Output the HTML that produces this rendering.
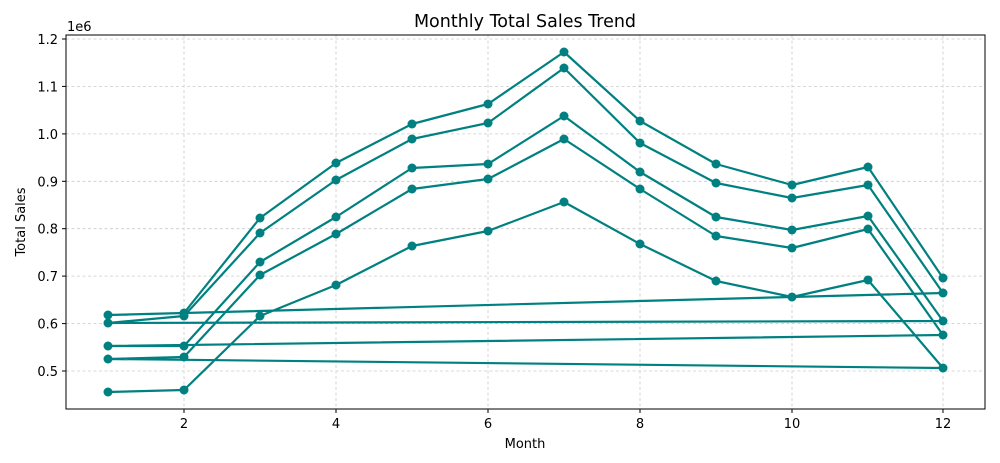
<!DOCTYPE html>
<html><head><style>body{margin:0;background:#fff}svg{display:block}</style></head><body>
<svg width="1000" height="463" xmlns="http://www.w3.org/2000/svg" font-family="DejaVu Sans, Liberation Sans, sans-serif">
<rect width="1000" height="463" fill="#fff"/>
<g stroke="#cccccc" stroke-width="0.8" stroke-dasharray="3,2.5">
<line x1="184" y1="35" x2="184" y2="409"/><line x1="336" y1="35" x2="336" y2="409"/><line x1="488" y1="35" x2="488" y2="409"/><line x1="640" y1="35" x2="640" y2="409"/><line x1="792" y1="35" x2="792" y2="409"/><line x1="943" y1="35" x2="943" y2="409"/>
<line x1="66" y1="371" x2="985" y2="371"/><line x1="66" y1="323.6" x2="985" y2="323.6"/><line x1="66" y1="276.1" x2="985" y2="276.1"/><line x1="66" y1="228.7" x2="985" y2="228.7"/><line x1="66" y1="181.3" x2="985" y2="181.3"/><line x1="66" y1="133.9" x2="985" y2="133.9"/><line x1="66" y1="86.4" x2="985" y2="86.4"/><line x1="66" y1="39" x2="985" y2="39"/>
</g>
<polyline fill="none" stroke="#008080" stroke-width="2.2" stroke-linejoin="round" points="108,392 184,390 260,316 336,285 412,246 488,231 564,202 640,244 716,281 792,297 868,280 943,368 108,359 184,357 260,275 336,234 412,189 488,179 564,139 640,189 716,236 792,248 868,229 943,335 108,346 184,346 260,262 336,217 412,168 488,164 564,116 640,172 716,217 792,230 868,216 943,321 108,323 184,316 260,233 336,180 412,139 488,123 564,68 640,143 716,183 792,198 868,185 943,293 108,315 184,313 260,218 336,163 412,124 488,104 564,52 640,121 716,164 792,185 868,167 943,278"/>
<g fill="#008080">
<circle cx="108" cy="392" r="4.5"/><circle cx="184" cy="390" r="4.5"/><circle cx="260" cy="316" r="4.5"/><circle cx="336" cy="285" r="4.5"/><circle cx="412" cy="246" r="4.5"/><circle cx="488" cy="231" r="4.5"/><circle cx="564" cy="202" r="4.5"/><circle cx="640" cy="244" r="4.5"/><circle cx="716" cy="281" r="4.5"/><circle cx="792" cy="297" r="4.5"/><circle cx="868" cy="280" r="4.5"/><circle cx="943" cy="368" r="4.5"/>
<circle cx="108" cy="359" r="4.5"/><circle cx="184" cy="357" r="4.5"/><circle cx="260" cy="275" r="4.5"/><circle cx="336" cy="234" r="4.5"/><circle cx="412" cy="189" r="4.5"/><circle cx="488" cy="179" r="4.5"/><circle cx="564" cy="139" r="4.5"/><circle cx="640" cy="189" r="4.5"/><circle cx="716" cy="236" r="4.5"/><circle cx="792" cy="248" r="4.5"/><circle cx="868" cy="229" r="4.5"/><circle cx="943" cy="335" r="4.5"/>
<circle cx="108" cy="346" r="4.5"/><circle cx="184" cy="346" r="4.5"/><circle cx="260" cy="262" r="4.5"/><circle cx="336" cy="217" r="4.5"/><circle cx="412" cy="168" r="4.5"/><circle cx="488" cy="164" r="4.5"/><circle cx="564" cy="116" r="4.5"/><circle cx="640" cy="172" r="4.5"/><circle cx="716" cy="217" r="4.5"/><circle cx="792" cy="230" r="4.5"/><circle cx="868" cy="216" r="4.5"/><circle cx="943" cy="321" r="4.5"/>
<circle cx="108" cy="323" r="4.5"/><circle cx="184" cy="316" r="4.5"/><circle cx="260" cy="233" r="4.5"/><circle cx="336" cy="180" r="4.5"/><circle cx="412" cy="139" r="4.5"/><circle cx="488" cy="123" r="4.5"/><circle cx="564" cy="68" r="4.5"/><circle cx="640" cy="143" r="4.5"/><circle cx="716" cy="183" r="4.5"/><circle cx="792" cy="198" r="4.5"/><circle cx="868" cy="185" r="4.5"/><circle cx="943" cy="293" r="4.5"/>
<circle cx="108" cy="315" r="4.5"/><circle cx="184" cy="313" r="4.5"/><circle cx="260" cy="218" r="4.5"/><circle cx="336" cy="163" r="4.5"/><circle cx="412" cy="124" r="4.5"/><circle cx="488" cy="104" r="4.5"/><circle cx="564" cy="52" r="4.5"/><circle cx="640" cy="121" r="4.5"/><circle cx="716" cy="164" r="4.5"/><circle cx="792" cy="185" r="4.5"/><circle cx="868" cy="167" r="4.5"/><circle cx="943" cy="278" r="4.5"/>
</g>
<rect x="66" y="35" width="919" height="374" fill="none" stroke="#000" stroke-width="1"/>
<g stroke="#000" stroke-width="1">
<line x1="184" y1="409" x2="184" y2="413"/><line x1="336" y1="409" x2="336" y2="413"/><line x1="488" y1="409" x2="488" y2="413"/><line x1="640" y1="409" x2="640" y2="413"/><line x1="792" y1="409" x2="792" y2="413"/><line x1="943" y1="409" x2="943" y2="413"/>
<line x1="62" y1="371" x2="66" y2="371"/><line x1="62" y1="323.6" x2="66" y2="323.6"/><line x1="62" y1="276.1" x2="66" y2="276.1"/><line x1="62" y1="228.7" x2="66" y2="228.7"/><line x1="62" y1="181.3" x2="66" y2="181.3"/><line x1="62" y1="133.9" x2="66" y2="133.9"/><line x1="62" y1="86.4" x2="66" y2="86.4"/><line x1="62" y1="39" x2="66" y2="39"/>
</g>
<g font-size="13" fill="#000">
<g text-anchor="middle"><text x="184" y="428">2</text><text x="336" y="428">4</text><text x="488" y="428">6</text><text x="640" y="428">8</text><text x="792" y="428">10</text><text x="943" y="428">12</text></g>
<g text-anchor="end"><text x="58" y="376">0.5</text><text x="58" y="328.6">0.6</text><text x="58" y="281.1">0.7</text><text x="58" y="233.7">0.8</text><text x="58" y="186.3">0.9</text><text x="58" y="138.9">1.0</text><text x="58" y="91.4">1.1</text><text x="58" y="44">1.2</text></g>
<text x="67" y="31">1e6</text>
<text x="525" y="448" text-anchor="middle">Month</text>
<text x="25" y="222" text-anchor="middle" transform="rotate(-90 25 222)">Total Sales</text>
</g>
<text x="525" y="27" font-size="17.5" text-anchor="middle">Monthly Total Sales Trend</text>
</svg>
</body></html>
